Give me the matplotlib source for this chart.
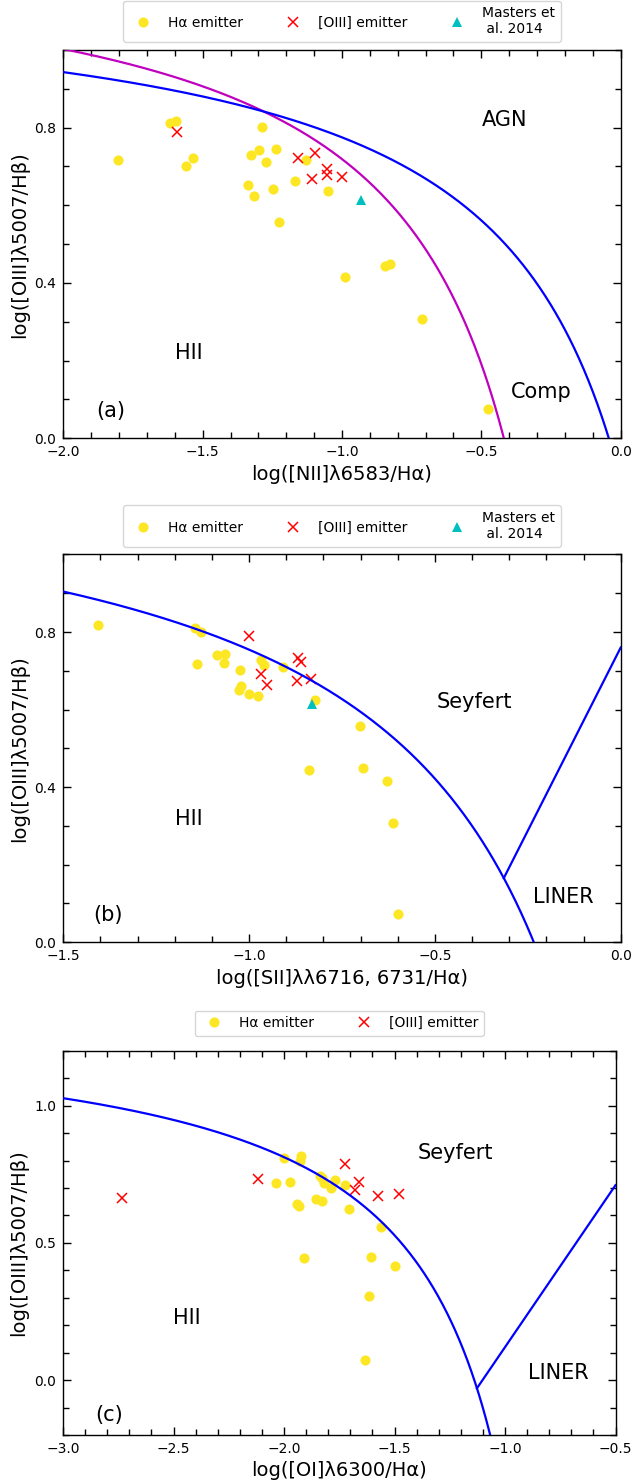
import numpy as np
import matplotlib
matplotlib.use("Agg")
import matplotlib.pyplot as plt
from matplotlib.ticker import MultipleLocator

# ---------------- data ----------------
# Panel (a): BPT [NII]
ha_nii_x = [-1.804, -1.616, -1.596, -1.535, -1.558, -1.286, -1.327, -1.298, -1.236, -1.273, -1.129,
            -1.339, -1.315, -1.246, -1.169, -1.050, -1.226, -0.845, -0.826, -0.990, -0.713, -0.477]
ha_nii_y = [0.718, 0.811, 0.818, 0.721, 0.702, 0.801, 0.730, 0.742, 0.744, 0.712, 0.717,
            0.653, 0.624, 0.641, 0.662, 0.636, 0.557, 0.445, 0.450, 0.415, 0.308, 0.075]
o3_nii_x = [-1.592, -1.157, -1.097, -1.109, -1.053, -1.053, -0.999]
o3_nii_y = [0.790, 0.721, 0.734, 0.667, 0.693, 0.679, 0.673]
m14_nii_x = [-0.931]
m14_nii_y = [0.614]

# Panel (b): [SII]
ha_sii_x = [-1.406, -1.146, -1.129, -1.141, -1.086, -1.065, -1.068, -1.024, -1.023, -1.026, -0.999,
            -0.977, -0.969, -0.961, -0.910, -0.824, -0.702, -0.838, -0.693, -0.628, -0.613, -0.600]
ha_sii_y = [0.817, 0.811, 0.800, 0.717, 0.741, 0.744, 0.721, 0.701, 0.661, 0.651, 0.641,
            0.634, 0.729, 0.716, 0.711, 0.624, 0.557, 0.444, 0.449, 0.415, 0.308, 0.074]
o3_sii_x = [-1.001, -0.868, -0.860, -0.968, -0.952, -0.871, -0.834]
o3_sii_y = [0.789, 0.733, 0.723, 0.693, 0.664, 0.674, 0.679]
m14_sii_x = [-0.831]
m14_sii_y = [0.614]

# Panel (c): [OI]
ha_oi_x = [-1.998, -1.921, -1.927, -2.037, -1.971, -1.836, -1.829, -1.819, -1.788, -1.768, -1.724,
           -1.943, -1.930, -1.856, -1.830, -1.707, -1.559, -1.910, -1.605, -1.499, -1.617, -1.633]
ha_oi_y = [0.810, 0.817, 0.799, 0.717, 0.720, 0.742, 0.735, 0.717, 0.700, 0.729, 0.712,
           0.642, 0.633, 0.661, 0.653, 0.623, 0.556, 0.444, 0.449, 0.414, 0.308, 0.074]
o3_oi_x = [-2.731, -2.119, -1.724, -1.662, -1.679, -1.573, -1.478]
o3_oi_y = [0.664, 0.731, 0.789, 0.720, 0.692, 0.671, 0.678]

lab_ha = "H\u03b1 emitter"
lab_o3 = "[OIII] emitter"
lab_m14 = "Masters et\n al. 2014"

YEL = "#fde725"

# ---------------- figure ----------------
W, H = 632, 1484
fig = plt.figure(figsize=(W / 100, H / 100), dpi=100)


def add_axes(l, r, t, b):
    return fig.add_axes([l / W, 1 - b / H, (r - l) / W, (b - t) / H])


def style(ax, xmaj, ymaj):
    ax.xaxis.set_major_locator(MultipleLocator(xmaj))
    ax.xaxis.set_minor_locator(MultipleLocator(0.1))
    ax.yaxis.set_major_locator(MultipleLocator(ymaj))
    ax.yaxis.set_minor_locator(MultipleLocator(0.1))
    ax.tick_params(which="both", direction="in", top=True, right=True, labelsize=10, pad=5)
    ax.tick_params(which="major", length=6, width=1)
    ax.tick_params(which="minor", length=4.5, width=1)
    for s in ax.spines.values():
        s.set_linewidth(1.0)


def points(ax, hx, hy, ox, oy, mx=None, my=None):
    ax.plot(hx, hy, "o", color=YEL, ms=7.3, mew=0, ls="none", label=lab_ha, zorder=2)
    ax.plot(ox, oy, "x", color="r", ms=6.5, mew=1.1, ls="none", label=lab_o3, zorder=3)
    if mx is not None:
        ax.plot(mx, my, "^", color="c", ms=7.3, mew=0, ls="none", label=lab_m14, zorder=4)


# ---- Panel (a)
axA = add_axes(63.3, 620.7, 50, 438.3)
points(axA, ha_nii_x, ha_nii_y, o3_nii_x, o3_nii_y, m14_nii_x, m14_nii_y)
xk = np.linspace(-2.0, 0.0, 600)
axA.plot(xk, 0.61 / (xk - 0.05) + 1.3, color="m", lw=1.6, zorder=5)
axA.plot(xk, 0.61 / (xk - 0.47) + 1.19, color="b", lw=1.6, zorder=5)
axA.set_xlim(-2.0, 0.0)
axA.set_ylim(0.0, 1.0)
style(axA, 0.5, 0.4)
axA.set_xlabel("log([NII]\u03bb6583/H\u03b1)", fontsize=14)
axA.set_ylabel("log([OIII]\u03bb5007/H\u03b2)", fontsize=14)
for txt, x, y in [("AGN", -0.415, 0.820), ("HII", -1.550, 0.219), ("Comp", -0.286, 0.120), ("(a)", -1.830, 0.070)]:
    axA.text(x, y, txt, fontsize=15, ha="center", va="center")
axA.legend(loc="lower center", bbox_to_anchor=(0.5, 1 + 8 / 388.3), ncol=3, fontsize=10,
           borderaxespad=0, columnspacing=2.6)

# ---- Panel (b)
axB = add_axes(63.3, 620.7, 554.5, 942.2)
points(axB, ha_sii_x, ha_sii_y, o3_sii_x, o3_sii_y, m14_sii_x, m14_sii_y)
xs = np.linspace(-1.5, 0.0, 600)
axB.plot(xs, 0.72 / (xs - 0.32) + 1.30, color="b", lw=1.6, zorder=5)
r = np.roots([1.89, -(1.89 * 0.32 + 0.54), 0.54 * 0.32 - 0.72])
x0 = r.min()
xl = np.linspace(x0, 0.0, 50)
axB.plot(xl, 1.89 * xl + 0.76, color="b", lw=1.6, zorder=5)
axB.set_xlim(-1.5, 0.0)
axB.set_ylim(0.0, 1.0)
style(axB, 0.5, 0.4)
axB.set_xlabel("log([SII]\u03bb\u03bb6716, 6731/H\u03b1)", fontsize=14)
axB.set_ylabel("log([OIII]\u03bb5007/H\u03b2)", fontsize=14)
for txt, x, y in [("Seyfert", -0.395, 0.620), ("HII", -1.161, 0.317), ("LINER", -0.155, 0.117), ("(b)", -1.380, 0.070)]:
    axB.text(x, y, txt, fontsize=15, ha="center", va="center")
axB.legend(loc="lower center", bbox_to_anchor=(0.5, 1 + 7.8 / 387.7), ncol=3, fontsize=10,
           borderaxespad=0, columnspacing=2.6)

# ---- Panel (c)
axC = add_axes(63.0, 615.5, 1050.7, 1435)
points(axC, ha_oi_x, ha_oi_y, o3_oi_x, o3_oi_y)
xo = np.linspace(-3.0, -0.6, 800)
axC.plot(xo, 0.73 / (xo + 0.59) + 1.33, color="b", lw=1.6, zorder=5)
r = np.roots([1.18, 1.18 * 0.59 - 0.03, -0.03 * 0.59 - 0.73])
x1 = r.min()
xl = np.linspace(x1, -0.5, 50)
axC.plot(xl, 1.18 * xl + 1.30, color="b", lw=1.6, zorder=5)
axC.set_xlim(-3.0, -0.5)
axC.set_ylim(-0.2, 1.2)
style(axC, 0.5, 0.5)
axC.set_xlabel("log([OI]\u03bb6300/H\u03b1)", fontsize=14)
axC.set_ylabel("log([OIII]\u03bb5007/H\u03b2)", fontsize=14)
for txt, x, y in [("Seyfert", -1.226, 0.828), ("HII", -2.439, 0.226), ("LINER", -0.760, 0.025), ("(c)", -2.792, -0.126)]:
    axC.text(x, y, txt, fontsize=15, ha="center", va="center")
axC.legend(loc="lower center", bbox_to_anchor=(0.5, 1 + 15 / 384.3), ncol=2, fontsize=10,
           borderaxespad=0, columnspacing=2.6)

fig.savefig("out.png", dpi=100)
